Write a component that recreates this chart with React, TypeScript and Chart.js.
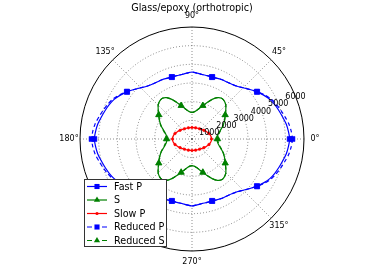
import React, { useEffect, useRef } from 'react';
import { Chart, registerables } from 'chart.js';

Chart.register(...registerables);

// ---- data (angles in degrees, counter-clockwise from 0° at the right; velocities in m/s) ----
const STEP = 4.5;
const N = 80;
const TITLE = 'Glass/epoxy (orthotropic)';
const THETA_TICKS = [0, 45, 90, 135, 180, 225, 270, 315];
const R_TICKS = [1000, 2000, 3000, 4000, 5000, 6000];
const TICK_ANGLE = 22.5;

const fastP = [
  5230, 5180, 5110, 5000, 4900, 4800, 4680, 4500, 4300, 4080, 3880, 3720, 3630, 3580, 3560, 3520, 3490, 3490, 3500, 3540, 3590,
  3540, 3500, 3490, 3490, 3520, 3560, 3580, 3630, 3720, 3880, 4080, 4300, 4500, 4680, 4800, 4900, 5000, 5110, 5180,
  5230, 5180, 5110, 5000, 4900, 4800, 4680, 4500, 4300, 4080, 3880, 3720, 3630, 3580, 3560, 3520, 3490, 3490, 3500, 3540, 3590,
  3540, 3500, 3490, 3490, 3520, 3560, 3580, 3630, 3720, 3880, 4080, 4300, 4500, 4680, 4800, 4900, 5000, 5110, 5180,
];
const sWave = [
  1340, 1355, 1400, 1490, 1620, 1780, 1920, 2060, 2200, 2380, 2560, 2670, 2700, 2600, 2380, 2120, 1880, 1690, 1550, 1460, 1425,
  1460, 1550, 1690, 1880, 2120, 2380, 2600, 2700, 2670, 2560, 2380, 2200, 2060, 1920, 1780, 1620, 1490, 1400, 1355,
  1340, 1355, 1400, 1490, 1620, 1780, 1920, 2060, 2200, 2380, 2560, 2670, 2700, 2600, 2380, 2120, 1880, 1690, 1550, 1460, 1425,
  1460, 1550, 1690, 1880, 2120, 2380, 2600, 2700, 2670, 2560, 2380, 2200, 2060, 1920, 1780, 1620, 1490, 1400, 1355,
];
const slowP = [
  1045, 1040, 1020, 990, 955, 915, 870, 830, 790, 755, 725, 700, 680, 662, 648, 637, 628, 622, 618, 616, 615,
  616, 618, 622, 628, 637, 648, 662, 680, 700, 725, 755, 790, 830, 870, 915, 955, 990, 1020, 1040,
  1045, 1040, 1020, 990, 955, 915, 870, 830, 790, 755, 725, 700, 680, 662, 648, 637, 628, 622, 618, 616, 615,
  616, 618, 622, 628, 637, 648, 662, 680, 700, 725, 755, 790, 830, 870, 915, 955, 990, 1020, 1040,
];
const reducedP = [
  5380, 5330, 5250, 5120, 5000, 4880, 4740, 4540, 4310, 4080, 3880, 3720, 3630, 3580, 3560, 3520, 3490, 3490, 3500, 3540, 3590,
  3540, 3500, 3490, 3490, 3520, 3560, 3580, 3630, 3720, 3880, 4080, 4310, 4540, 4740, 4880, 5000, 5120, 5250, 5330,
  5380, 5330, 5250, 5120, 5000, 4880, 4740, 4540, 4310, 4080, 3880, 3720, 3630, 3580, 3560, 3520, 3490, 3490, 3500, 3540, 3590,
  3540, 3500, 3490, 3490, 3520, 3560, 3580, 3630, 3720, 3880, 4080, 4310, 4540, 4740, 4880, 5000, 5120, 5250, 5330,
];
const reducedS = [
  1380, 1395, 1440, 1520, 1640, 1790, 1930, 2060, 2200, 2380, 2560, 2670, 2700, 2600, 2380, 2120, 1880, 1690, 1550, 1460, 1425,
  1460, 1550, 1690, 1880, 2120, 2380, 2600, 2700, 2670, 2560, 2380, 2200, 2060, 1930, 1790, 1640, 1520, 1440, 1395,
  1380, 1395, 1440, 1520, 1640, 1790, 1930, 2060, 2200, 2380, 2560, 2670, 2700, 2600, 2380, 2120, 1880, 1690, 1550, 1460, 1425,
  1460, 1550, 1690, 1880, 2120, 2380, 2600, 2700, 2670, 2560, 2380, 2200, 2060, 1930, 1790, 1640, 1520, 1440, 1395,
];

const SERIES = [
  { label: 'Fast P', data: fastP, color: '#0000ff', style: 'rect', dash: [] as number[], every: 8, size: 3.6 },
  { label: 'S', data: sWave, color: '#008000', style: 'triangle', dash: [] as number[], every: 8, size: 3.6 },
  { label: 'Slow P', data: slowP, color: '#ff0000', style: 'circle', dash: [] as number[], every: 4, size: 1.3 },
  { label: 'Reduced P', data: reducedP, color: '#0000ff', style: 'rect', dash: [4, 3], every: 8, size: 3.6 },
  { label: 'Reduced S', data: reducedS, color: '#008000', style: 'triangle', dash: [4, 3], every: 8, size: 3.6 },
];

// radar goes clockwise from its start angle; matplotlib's polar goes counter-clockwise
const toRadar = (arr: number[]) => arr.map((_, i) => arr[(N - i) % N]);
const radarIndex = (theta: number) => Math.round(((360 - theta) % 360) / STEP) % N;
const LABELS = Array.from({ length: N }, (_, i) => String((360 - i * STEP) % 360));

const FONT = '"DejaVu Sans", sans-serif';

function drawMarker(ctx: CanvasRenderingContext2D, style: string, x: number, y: number, r: number) {
  ctx.beginPath();
  if (style === 'rect') {
    const h = Math.SQRT1_2 * r;
    ctx.rect(x - h, y - h, 2 * h, 2 * h);
  } else if (style === 'triangle') {
    ctx.moveTo(x, y - r);
    ctx.lineTo(x + r * Math.sin(Math.PI / 3), y + r / 2);
    ctx.lineTo(x - r * Math.sin(Math.PI / 3), y + r / 2);
    ctx.closePath();
  } else {
    ctx.arc(x, y, r, 0, Math.PI * 2);
  }
  ctx.fill();
}

const overlay = {
  id: 'overlay',
  afterDatasetsDraw(chart: any) {
    const ctx: CanvasRenderingContext2D = chart.ctx;
    const s = chart.scales.r;
    ctx.save();
    ctx.fillStyle = '#000';
    ctx.textAlign = 'center';
    ctx.textBaseline = 'middle';

    // title
    ctx.font = `9.6px ${FONT}`;
    ctx.fillText(TITLE, s.xCenter, 8);

    // angle labels
    ctx.font = `8px ${FONT}`;
    THETA_TICKS.forEach((th) => {
      const p = s.getPointPosition(radarIndex(th), s.drawingArea + 11);
      ctx.fillText(`${th}°`, p.x, p.y);
    });

    // radial tick labels along 22.5°
    R_TICKS.forEach((v) => {
      const p = s.getPointPosition(radarIndex(TICK_ANGLE), s.getDistanceFromCenterForValue(v));
      ctx.fillText(String(v), p.x, p.y + 1);
    });

    // legend
    const bx = 84, by = 179, bw = 83, bh = 68;
    ctx.fillStyle = '#fff';
    ctx.fillRect(bx, by, bw, bh);
    ctx.strokeStyle = 'rgba(0,0,0,0.8)';
    ctx.lineWidth = 1;
    ctx.strokeRect(bx + 0.5, by + 0.5, bw - 1, bh - 1);
    ctx.font = `9.6px ${FONT}`;
    ctx.textAlign = 'left';
    SERIES.forEach((sr, i) => {
      const y = by + 7.5 + i * 13.5;
      ctx.strokeStyle = sr.color;
      ctx.fillStyle = sr.color;
      ctx.lineWidth = 1.2;
      ctx.setLineDash(sr.dash.length ? [5, 10] : []);
      ctx.beginPath();
      ctx.moveTo(87, y);
      ctx.lineTo(107, y);
      ctx.stroke();
      ctx.setLineDash([]);
      drawMarker(ctx, sr.style, 97, y, sr.style === 'circle' ? 1.6 : 3.6);
      ctx.fillStyle = '#000';
      ctx.fillText(sr.label, 114, y + 0.5);
    });
    ctx.restore();
  },
};

export default function App() {
  const ref = useRef<HTMLCanvasElement>(null);
  useEffect(() => {
    if (!ref.current) return;
    const gridColor = 'rgba(0,0,0,0.45)';
    const chart = new Chart(ref.current, {
      type: 'radar',
      data: {
        labels: LABELS,
        datasets: SERIES.map((sr, k) => ({
          label: sr.label,
          data: toRadar(sr.data),
          borderColor: sr.color,
          backgroundColor: sr.color,
          borderWidth: 1.2,
          borderDash: sr.dash,
          fill: false,
          tension: 0.25,
          pointStyle: sr.style as any,
          pointRadius: (c: any) => (c.dataIndex % sr.every === 0 ? sr.size : 0),
          pointBackgroundColor: sr.color,
          pointBorderColor: sr.color,
          pointBorderWidth: 0.5,
          pointHoverRadius: 0,
          order: SERIES.length - k,
        })),
      },
      options: {
        responsive: false,
        animation: false,
        devicePixelRatio: 1,
        events: [],
        layout: { padding: { left: 80, right: 70, top: 27, bottom: 29 } },
        plugins: { legend: { display: false }, tooltip: { enabled: false }, title: { display: false } },
        scales: {
          r: {
            min: 0,
            max: 6000,
            startAngle: 90,
            ticks: { display: false, stepSize: 1000 },
            pointLabels: { display: false },
            grid: {
              circular: true,
              lineWidth: 1,
              color: (c: any) => (c.tick && c.tick.value >= 6000 ? '#000' : gridColor),
            },
            border: { dash: (c: any) => (c.tick && c.tick.value >= 6000 ? [] : [1, 2]) } as any,
            angleLines: {
              display: true,
              color: (c: any) => (c.index % 10 === 0 ? gridColor : 'rgba(0,0,0,0)'),
              lineWidth: (c: any) => (c.index % 10 === 0 ? 1 : 0),
              borderDash: [1, 2],
            },
          },
        },
      } as any,
      plugins: [overlay],
    });
    return () => chart.destroy();
  }, []);
  return (
    <div style={{ position: 'absolute', left: 0, top: 0, width: 374, height: 280, background: '#fff' }}>
      <canvas ref={ref} width={374} height={280} style={{ display: 'block', width: 374, height: 280 }} />
    </div>
  );
}
